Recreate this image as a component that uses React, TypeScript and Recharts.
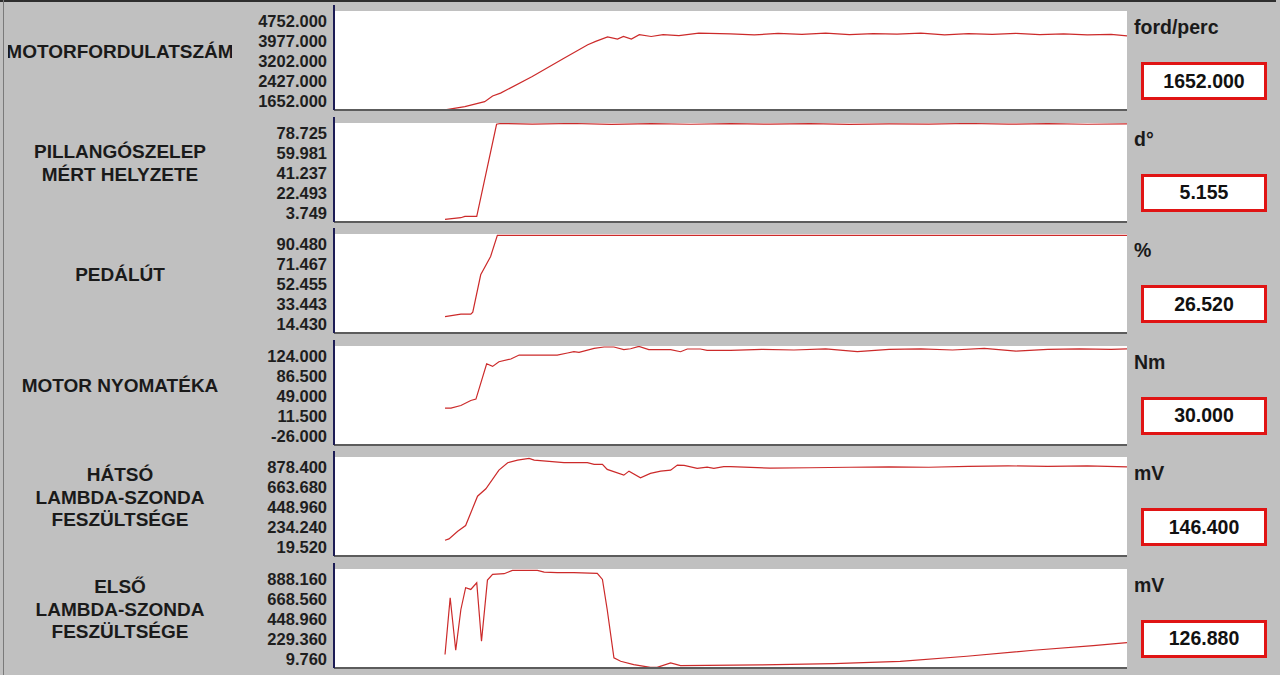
import { LineChart, Line, XAxis, YAxis, CartesianGrid } from 'recharts'

const FONT = 'Arial, "Liberation Sans", sans-serif'
const BG = '#c0c0c0'
const TRACE = '#cc2a2a'
const AXIS = '#1c1c55'

// row labels, units and the readout shown in each red box
const labels = [
  ['MOTORFORDULATSZÁM'],
  ['PILLANGÓSZELEP', 'MÉRT HELYZETE'],
  ['PEDÁLÚT'],
  ['MOTOR NYOMATÉKA'],
  ['HÁTSÓ', 'LAMBDA-SZONDA', 'FESZÜLTSÉGE'],
  ['ELSŐ', 'LAMBDA-SZONDA', 'FESZÜLTSÉGE'],
]
const units = ['ford/perc', 'd°', '%', 'Nm', 'mV', 'mV']
const readouts = ['1652.000', '5.155', '26.520', '30.000', '146.400', '126.880']

// y tick labels, top to bottom
const rpmTicks = [4752, 3977, 3202, 2427, 1652]
const throttleTicks = [78.725, 59.981, 41.237, 22.493, 3.749]
const pedalTicks = [90.48, 71.467, 52.455, 33.443, 14.43]
const torqueTicks = [124, 86.5, 49, 11.5, -26]
const rearLambdaTicks = [878.4, 663.68, 448.96, 234.24, 19.52]
const frontLambdaTicks = [888.16, 668.56, 448.96, 229.36, 9.76]

// samples (x runs 0..200 across the recorder window)
const rpmTime = [28, 33, 38, 40, 42, 50, 58, 64, 66, 69, 71.5, 73, 75, 77, 80, 83, 87, 92, 100, 106, 112, 118, 124, 130, 136, 142, 148, 154, 160, 166, 172, 178, 184, 190, 196, 200]
const rpmValues = [1330, 1460, 1650, 1870, 1980, 2620, 3330, 3850, 3980, 4150, 4070, 4170, 4070, 4240, 4170, 4240, 4200, 4300, 4270, 4230, 4290, 4250, 4300, 4240, 4280, 4260, 4300, 4230, 4280, 4250, 4290, 4240, 4270, 4230, 4250, 4190]

const throttleTime = [28, 32, 33, 36, 41, 42, 50, 60, 70, 80, 90, 100, 110, 120, 130, 140, 150, 160, 170, 180, 190, 200]
const throttleValues = [-1.7, -0.1, 1.1, 1.1, 87.3, 88, 87.5, 88, 87.2, 87.8, 87.3, 87.9, 87.4, 87.8, 87.2, 87.7, 87.5, 88, 87.4, 87.8, 87.3, 87.6]

const pedalTime = [28, 32, 34.5, 35, 37, 39.5, 41.2, 200]
const pedalValues = [22.0, 24.3, 24.3, 26.2, 61.7, 79.1, 99.1, 99.1]

const torqueTime = [28, 29.5, 32, 34.5, 35.8, 38.5, 40, 41.6, 44.6, 46.7, 56.3, 58.9, 60.5, 61.8, 65.6, 68.1, 70.6, 73.1, 74.8, 76.9, 79.4, 84.9, 87.4, 89.1, 92.4, 94.1, 100, 108, 116, 124, 132, 140, 148, 156, 164, 172, 180, 188, 196, 200]
const torqueValues = [27.3, 27.3, 32.1, 41.5, 44.1, 110.3, 105.3, 114.1, 119.1, 126.6, 126.6, 130.4, 132.8, 131.5, 139, 141.6, 141.6, 136.6, 138.4, 142.8, 136.6, 136.6, 132.8, 137.9, 137.9, 135.3, 135.3, 137, 136, 138, 133, 137, 138, 136, 139, 134, 137, 138, 137, 138]

const rearLambdaTime = [28, 29, 31.2, 33.2, 36.2, 38.3, 41.6, 43.8, 46.3, 49.2, 50.5, 58, 63.9, 65.6, 67.7, 68.9, 73.1, 74.4, 77.3, 79.8, 82.4, 84.9, 86.6, 88.3, 91.6, 94.1, 95.8, 98.3, 100, 110, 120, 130, 140, 150, 160, 170, 180, 190, 200]
const rearLambdaValues = [97.9, 112.9, 194.5, 255.7, 570, 649.7, 849.4, 928.8, 956.8, 975, 956.8, 928.8, 928.8, 910.6, 910.6, 857, 795.7, 838.6, 767.8, 814, 838.6, 849.4, 903, 900, 867.6, 881.6, 867.6, 885.9, 885.9, 870, 875, 880, 885, 880, 890, 895, 890, 895, 885]

const frontLambdaTime = [28, 29.3, 30.7, 32, 33.2, 34.5, 36, 37.2, 38.7, 40, 42.9, 45, 51.3, 53, 56.3, 60.5, 66.4, 67.7, 68.9, 70.6, 72.3, 75.6, 79.8, 81.5, 84.9, 87.4, 107.6, 126, 142.8, 159.6, 176.4, 191.5, 200]
const frontLambdaValues = [64.7, 687, 111.9, 558.8, 797, 778.4, 851.9, 210.7, 880.5, 943, 950.7, 987, 987, 968, 962, 962, 954, 888, 558.8, 28.4, -8.9, -45.1, -74.8, -74.8, -26.5, -56, -48.4, -34, -8.9, 46, 111.9, 163.5, 196]

const zip = (time: number[], values: number[]) => time.map((t, i) => ({ t, v: values[i] }))

const panels = [
  { ticks: rpmTicks, data: zip(rpmTime, rpmValues) },
  { ticks: throttleTicks, data: zip(throttleTime, throttleValues) },
  { ticks: pedalTicks, data: zip(pedalTime, pedalValues) },
  { ticks: torqueTicks, data: zip(torqueTime, torqueValues) },
  { ticks: rearLambdaTicks, data: zip(rearLambdaTime, rearLambdaValues) },
  { ticks: frontLambdaTicks, data: zip(frontLambdaTime, frontLambdaValues) },
]

const ROW_H = 111.55
const PLOT_H = 99

function Panel({ index }: { index: number }) {
  const { ticks, data } = panels[index]
  const top = 11 + index * ROW_H
  const hi = ticks[0]
  const lo = ticks[ticks.length - 1]
  const range = hi - lo
  const lines = labels[index]

  return (
    <>
      {/* row caption */}
      <div style={{
        position: 'absolute', left: 8, width: 224, top: top + 41 - lines.length * 11.25,
        display: 'flex', flexDirection: 'column', alignItems: 'center', overflow: 'hidden',
        fontSize: 19, fontWeight: 'bold', lineHeight: '22.5px', color: '#1a1a1a',
      }}>
        {lines.map((l, i) => <div key={i} style={{ whiteSpace: 'nowrap' }}>{l}</div>)}
      </div>

      {/* axis stub above the plot */}
      <div style={{ position: 'absolute', left: 333, top: top - 6, width: 2, height: 6, background: AXIS }} />

      <div style={{ position: 'absolute', left: 240, top }}>
        <LineChart width={887} height={PLOT_H + 2} data={data} margin={{ top: 0, right: 0, bottom: 0, left: 0 }}>
          <CartesianGrid fill="#ffffff" horizontal={false} vertical={false} />
          <XAxis type="number" dataKey="t" domain={[0, 200]} height={2} tick={false} tickLine={false}
            axisLine={{ stroke: '#5c5c5c', strokeWidth: 2 }} allowDataOverflow />
          <YAxis type="number" width={94} domain={[lo - range * 0.105, hi + range * 0.13]} ticks={ticks}
            interval={0} allowDataOverflow tickSize={0} tickMargin={7} tickLine={false}
            axisLine={{ stroke: AXIS, strokeWidth: 2 }}
            tickFormatter={(v: number) => v.toFixed(3)}
            tick={{ fontSize: 16.5, fontWeight: 'bold', fill: '#1e1e1e', fontFamily: FONT }} />
          <Line type="linear" dataKey="v" stroke={TRACE} strokeWidth={1.2} dot={false} isAnimationActive={false} />
        </LineChart>
      </div>

      {/* unit and current value */}
      <div style={{ position: 'absolute', left: 1134, top: top + 5, fontSize: 19.5, fontWeight: 'bold', lineHeight: '22px', color: '#1a1a1a' }}>
        {units[index]}
      </div>
      <div style={{
        position: 'absolute', left: 1141, top: top + 51, width: 126, height: 38, boxSizing: 'border-box',
        border: '3px solid #e01414', background: '#fff', display: 'flex', alignItems: 'center', justifyContent: 'center',
        fontSize: 19.5, fontWeight: 'bold', color: '#111',
      }}>
        {readouts[index]}
      </div>
    </>
  )
}

export default function App() {
  return (
    <div style={{ position: 'absolute', left: 0, top: 0, width: 1280, height: 675, overflow: 'hidden', background: BG, fontFamily: FONT }}>
      <div style={{ position: 'absolute', left: 0, top: 0, width: 1276, height: 2, background: '#2e2e2e' }} />
      <div style={{ position: 'absolute', left: 3, top: 0, width: 1, height: 675, background: '#7a7a7a' }} />
      {panels.map((_, i) => <Panel key={i} index={i} />)}
    </div>
  )
}
